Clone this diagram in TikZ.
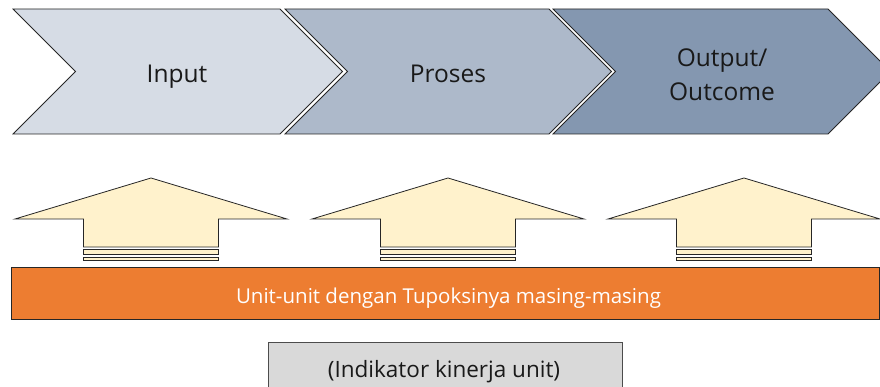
\documentclass[tikz,border=0pt]{standalone}
\usepackage{fontspec}
\setmainfont{Open Sans}
\definecolor{chevA}{HTML}{D6DCE5}
\definecolor{chevB}{HTML}{ADB9CA}
\definecolor{chevC}{HTML}{8497B0}
\definecolor{cream}{HTML}{FFF2CC}
\definecolor{unitbar}{HTML}{ED7D31}
\definecolor{kpi}{HTML}{D9D9D9}
\begin{document}
\begin{tikzpicture}[x=1pt,y=-1pt,
  chev/.style={draw=black!85, line width=0.8pt, line join=miter},
  uparrow/.style={draw=black!85, fill=cream, line width=0.8pt, line join=miter},
  stage/.style={font=\fontsize{24.5}{34}\selectfont, text=black!90, inner sep=0pt, anchor=base},
  bartext/.style={font=\fontsize{20.5}{24}\selectfont, text=white, inner sep=0pt, anchor=base},
  kpitext/.style={font=\fontsize{22.5}{26}\selectfont, text=black!90, inner sep=0pt, anchor=base}]
\useasboundingbox (0,0) rectangle (880,387);
\clip (0,0) rectangle (880,387);

% process chevrons
\fill[white] (0,0) rectangle (880,387);
\draw[chev, fill=chevA] (13,9) -- (280,9) -- (342.5,71.5) -- (280,134) -- (13,134) -- (75.5,71.5) -- cycle;
\draw[chev, fill=chevB] (285,9) -- (549,9) -- (611.5,71.5) -- (549,134) -- (285,134) -- (347.5,71.5) -- cycle;
\draw[chev, fill=chevC] (553,9) -- (828,9) -- (890.5,71.5) -- (828,134) -- (553,134) -- (615.5,71.5) -- cycle;
\node[stage] (input) at (177,83) {Input};
\node[stage] (proses) at (448,83) {Proses};
\node[stage] (output) at (722,67) {Output/};
\node[stage] (outcome) at (722,101) {Outcome};

% striped up arrows
\foreach \c/\n in {151/a1, 448/a2, 744/a3}{
  \draw[uparrow] (\c,178) -- (\c+136,219) -- (\c+67.5,219) -- (\c+67.5,247)
     -- (\c-67.5,247) -- (\c-67.5,219) -- (\c-136,219) -- cycle;
  \draw[uparrow] (\c-67.5,249) rectangle (\c+67.5,254);
  \draw[uparrow] (\c-67.5,257) rectangle (\c+67.5,260);
  \coordinate (\n) at (\c,178);
}

% units bar
\draw[draw=black!85, fill=unitbar, line width=0.8pt] (11,267) rectangle (879,319);
\node[bartext] (units) at (448.5,303) {Unit-unit dengan Tupoksinya masing-masing};

% performance indicator box
\draw[draw=black!70, fill=kpi, line width=0.8pt] (268,342) rectangle (622,400);
\node[kpitext] (kpi) at (444,377) {(Indikator kinerja unit)};
\end{tikzpicture}
\end{document}
